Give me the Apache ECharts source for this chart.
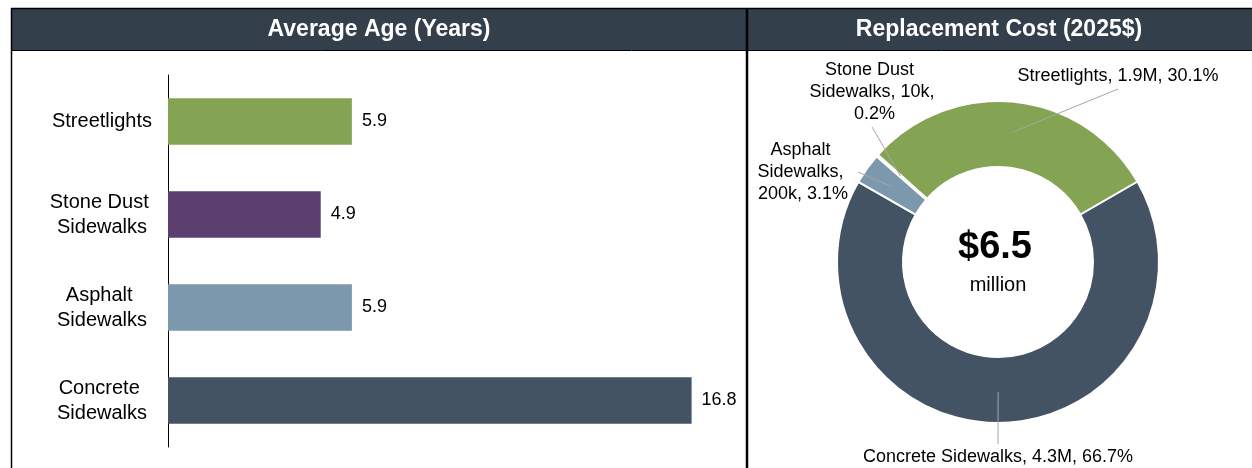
<!DOCTYPE html>
<html>
<head>
<meta charset="utf-8">
<title>Average Age and Replacement Cost</title>
<script src="https://cdn.jsdelivr.net/npm/echarts@6/dist/echarts.min.js"></script>
<style>
  html, body { margin: 0; padding: 0; background: #ffffff; }
  #chart { width: 1252px; height: 468px; }
</style>
</head>
<body>
<div id="chart"></div>
<script>
// Average age by asset class (years)
const ageCategories = ['Streetlights', 'Stone Dust Sidewalks', 'Asphalt Sidewalks', 'Concrete Sidewalks'];
const ageValues = [5.9, 4.9, 5.9, 16.8];
const ageColors = ['#84A454', '#5C3F6E', '#7B98AD', '#435364'];

// Replacement cost share (%), listed clockwise from the first slice
const costNames = ['Concrete Sidewalks', 'Asphalt Sidewalks', 'Stone Dust Sidewalks', 'Streetlights'];
const costShare = [66.7, 3.1, 0.2, 30.1];
const costAmounts = ['4.3M', '200k', '10k', '1.9M'];
const costColors = ['#435364', '#7B98AD', '#5C3F6E', '#84A454'];
const costTotal = '$6.5';
const costTotalUnit = 'million';

const panelTitles = ['Average Age (Years)', 'Replacement Cost (2025$)'];

// Where each cost label sits and which side its leader line joins
const costLabelSpots = [
  { x: 998, y: 457, wrap: 330, attach: 'top' },
  { x: 803, y: 172, wrap: 115, attach: 'right' },
  { x: 872, y: 92, wrap: 155, attach: 'bottom' },
  { x: 1118, y: 76, wrap: 260, attach: 'bottom' }
];

const FONT = "'Liberation Sans', Arial, sans-serif";
const HEADER = '#333F4B';
const PIE_CENTER = [998, 262];

const chart = echarts.init(document.getElementById('chart'), null, { renderer: 'canvas' });

const costData = costNames.map((name, i) => ({
  name: name,
  value: costShare[i],
  itemStyle: { color: costColors[i] }
}));

const costLabelData = costNames.map((name, i) => ({
  name: name,
  value: costShare[i],
  label: { width: costLabelSpots[i].wrap }
}));

const option = {
  animation: false,
  graphic: [
    // header band
    { type: 'rect', z: 0, shape: { x: 11, y: 8, width: 1241, height: 42 }, style: { fill: HEADER } },
    { type: 'line', z: 5, shape: { x1: 11, y1: 8.5, x2: 1252, y2: 8.5 }, style: { stroke: '#000', lineWidth: 1.5 } },
    { type: 'line', z: 5, shape: { x1: 11, y1: 50.5, x2: 1252, y2: 50.5 }, style: { stroke: '#000', lineWidth: 1 } },
    // panel frame
    { type: 'line', z: 5, shape: { x1: 11.5, y1: 8, x2: 11.5, y2: 468 }, style: { stroke: '#000', lineWidth: 1.5 } },
    { type: 'line', z: 5, shape: { x1: 747, y1: 8, x2: 747, y2: 468 }, style: { stroke: '#000', lineWidth: 2.5 } },
    // header titles
    { type: 'text', z: 6, style: { text: panelTitles[0], x: 379, y: 30, align: 'center', verticalAlign: 'middle',
      fill: '#fff', font: 'bold 23px ' + FONT } },
    { type: 'text', z: 6, style: { text: panelTitles[1], x: 999, y: 30, align: 'center', verticalAlign: 'middle',
      fill: '#fff', font: 'bold 23px ' + FONT } },
    // donut centre total
    { type: 'text', z: 6, style: { text: costTotal, x: 995, y: 248, align: 'center', verticalAlign: 'middle',
      fill: '#000', font: 'bold 38px ' + FONT } },
    { type: 'text', z: 6, style: { text: costTotalUnit, x: 998, y: 285, align: 'center', verticalAlign: 'middle',
      fill: '#000', font: '20px ' + FONT } }
  ],
  grid: { left: 168, top: 75, width: 561, height: 372, containLabel: false },
  xAxis: {
    type: 'value', min: 0, max: 18,
    axisLine: { show: false }, axisTick: { show: false }, axisLabel: { show: false }, splitLine: { show: false }
  },
  yAxis: {
    type: 'category', inverse: true, data: ageCategories,
    axisLine: { show: true, lineStyle: { color: '#000', width: 1 } },
    axisTick: { show: false },
    axisLabel: {
      color: '#000', fontFamily: FONT, fontSize: 20, lineHeight: 25,
      align: 'center', margin: 66, width: 120, overflow: 'break'
    }
  },
  series: [
    {
      type: 'bar',
      data: ageValues.map((v, i) => ({ value: v, itemStyle: { color: ageColors[i] } })),
      barCategoryGap: '50%',
      silent: true,
      label: {
        show: true, position: 'right', distance: 10,
        color: '#000', fontFamily: FONT, fontSize: 18,
        formatter: p => p.value.toFixed(1)
      }
    },
    {
      type: 'pie',
      center: PIE_CENTER,
      radius: [95, 161],
      startAngle: 30,
      clockwise: true,
      silent: true,
      avoidLabelOverlap: false,
      data: costData,
      itemStyle: { borderColor: '#fff', borderWidth: 2 },
      label: { show: false },
      labelLine: { show: false }
    },
    {
      // label carrier: leader lines start inside the donut band
      type: 'pie',
      center: PIE_CENTER,
      radius: [0, 130],
      startAngle: 30,
      clockwise: true,
      silent: true,
      z: 5,
      avoidLabelOverlap: false,
      data: costLabelData,
      itemStyle: { color: 'rgba(0,0,0,0)', borderWidth: 0 },
      emphasis: { disabled: true },
      label: {
        show: true, position: 'outside',
        color: '#000', fontFamily: FONT, fontSize: 18, lineHeight: 22,
        align: 'center', overflow: 'break',
        formatter: p => p.name + ', ' + costAmounts[p.dataIndex] + ', ' + costShare[p.dataIndex].toFixed(1) + '%'
      },
      labelLine: { show: true, length: 10, length2: 10, lineStyle: { color: '#A6A6A6', width: 1 } },
      labelLayout: function (params) {
        const spot = costLabelSpots[params.dataIndex];
        const h = params.labelRect.height;
        let end;
        if (spot.attach === 'top') end = [spot.x, spot.y - h / 2 - 2];
        else if (spot.attach === 'bottom') end = [spot.x, spot.y + h / 2 + 2];
        else end = [spot.x + 55, spot.y];
        const start = params.labelLinePoints ? params.labelLinePoints[0] : end;
        return {
          x: spot.x, y: spot.y, align: 'center', verticalAlign: 'middle',
          labelLinePoints: [start, start, end]
        };
      }
    }
  ]
};

chart.setOption(option);
</script>
</body>
</html>
